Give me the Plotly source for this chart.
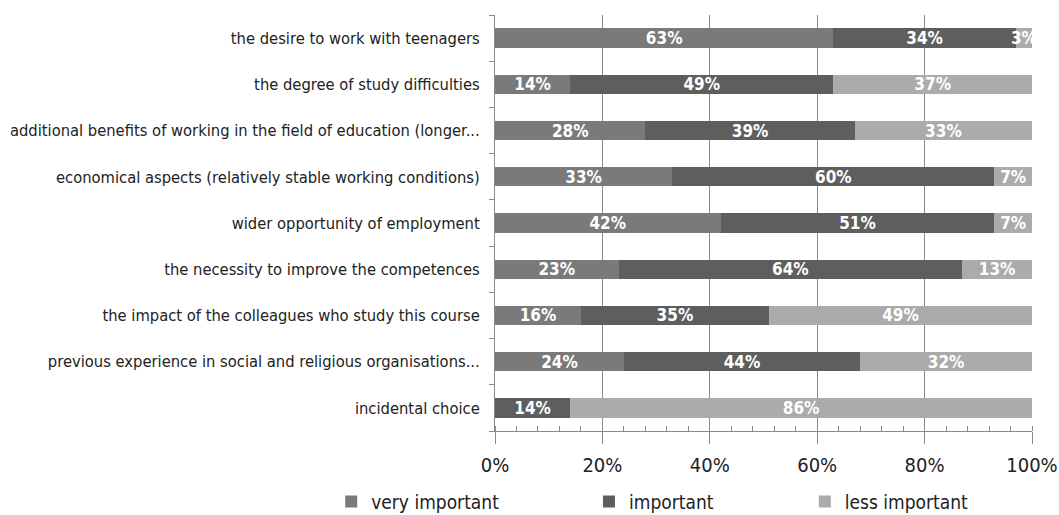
import plotly.graph_objects as go

categories = [
    "the desire to work with teenagers",
    "the degree of study difficulties",
    "additional benefits of working in the field of education (longer...",
    "economical aspects (relatively stable working conditions)",
    "wider opportunity of employment",
    "the necessity to improve the competences",
    "the impact of the colleagues who study this course",
    "previous experience in social and religious organisations...",
    "incidental choice",
]
very_important = [63, 14, 28, 33, 42, 23, 16, 24, 0]
important = [34, 49, 39, 60, 51, 64, 35, 44, 14]
less_important = [3, 37, 33, 7, 7, 13, 49, 32, 86]

series = [
    ("very important", very_important, "#7a7a7a", "legend"),
    ("important", important, "#5e5e5e", "legend2"),
    ("less important", less_important, "#ababab", "legend3"),
]

FONT = "DejaVu Sans Condensed"

fig = go.Figure()
for name, vals, color, leg in series:
    fig.add_trace(go.Bar(
        y=categories,
        x=vals,
        name=name,
        orientation="h",
        marker=dict(color=color, line=dict(width=0)),
        text=[f"{v}%" if v > 0 else "" for v in vals],
        textposition="inside",
        insidetextanchor="middle",
        constraintext="none",
        textangle=0,
        textfont=dict(family=FONT, size=17, color="white", weight="bold"),
        legend=leg,
        showlegend=True,
    ))

legend_common = dict(
    orientation="h",
    xanchor="left",
    yanchor="middle",
    xref="paper",
    yref="paper",
    font=dict(family=FONT, size=19, color="#222222"),
    bgcolor="rgba(0,0,0,0)",
    itemwidth=30,
    visible=True,
)

fig.update_layout(
    barmode="stack",
    bargap=0.58,
    width=1059,
    height=515,
    showlegend=True,
    margin=dict(l=495, r=27, t=15, b=84, autoexpand=False),
    paper_bgcolor="white",
    plot_bgcolor="white",
    font=dict(family=FONT, size=17, color="#222222"),
    xaxis=dict(
        range=[0, 100],
        dtick=20,
        ticksuffix="%",
        showgrid=True,
        gridcolor="#8a8a8a",
        gridwidth=1,
        showline=True,
        linecolor="#8a8a8a",
        ticks="outside",
        ticklen=12,
        tickcolor="#8a8a8a",
        ticklabelstandoff=4,
        tickfont=dict(family=FONT, size=20, color="#222222"),
        minor=dict(dtick=4, ticks="inside", ticklen=5, tickcolor="#8a8a8a", showgrid=False),
        zeroline=False,
        automargin=False,
    ),
    yaxis=dict(
        categoryorder="array",
        categoryarray=categories[::-1],
        showline=True,
        linecolor="#8a8a8a",
        ticks="outside",
        ticklen=5,
        tickcolor="#8a8a8a",
        tickson="boundaries",
        ticklabelstandoff=11,
        tickfont=dict(family=FONT, size=16.4, color="#222222"),
        showgrid=False,
        automargin=False,
    ),
    legend=dict(x=-0.305, y=-0.17, **legend_common),
    legend2=dict(x=0.175, y=-0.17, **legend_common),
    legend3=dict(x=0.577, y=-0.17, **legend_common),
)

fig.write_html("out.html")
